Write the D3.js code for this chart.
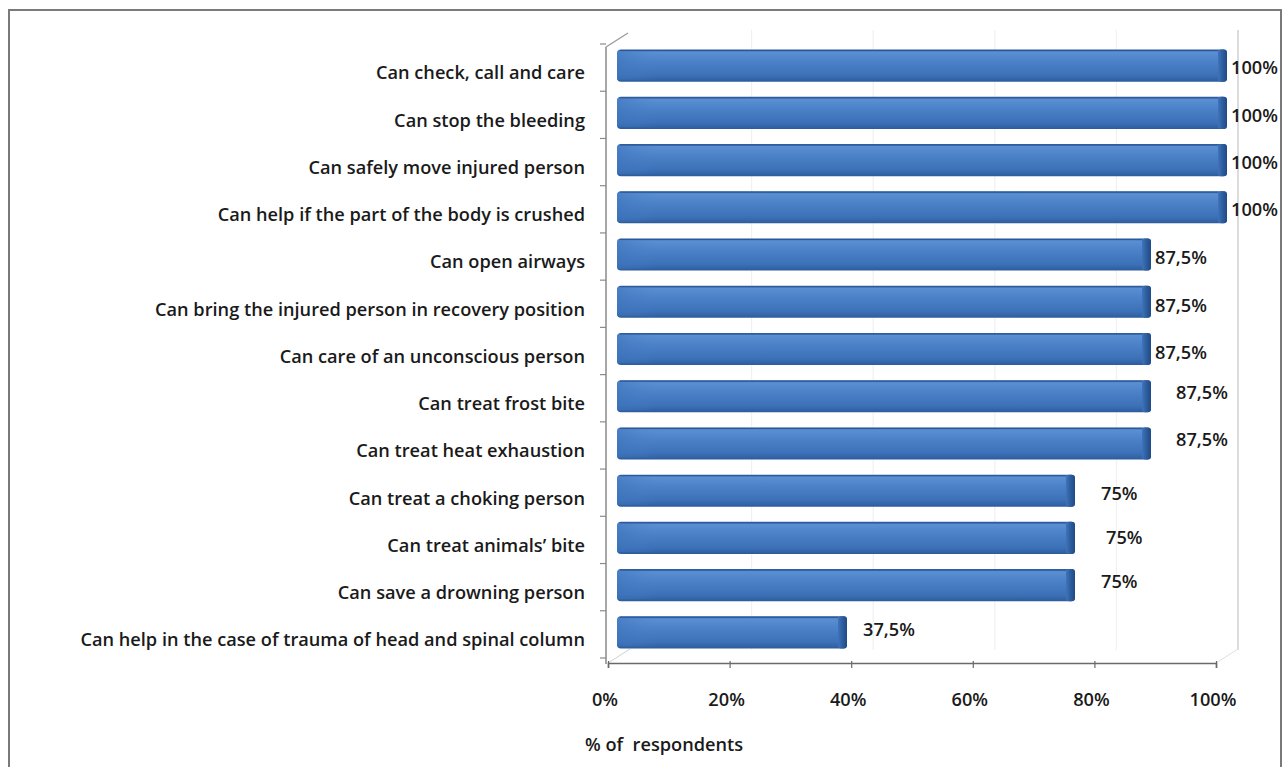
<!DOCTYPE html>
<html>
<head>
<meta charset="utf-8">
<script src="https://cdn.jsdelivr.net/npm/d3@7"></script>
<style>
  html, body { margin: 0; padding: 0; background: #fff; }
  svg { display: block; }
</style>
</head>
<body>
<svg id="chart" width="1285" height="767"></svg>
<script>
// ---- data ----
const categories = [
  "Can check, call and care",
  "Can stop the bleeding",
  "Can safely move injured person",
  "Can help if the part of the body is crushed",
  "Can open airways",
  "Can bring the injured person in recovery position",
  "Can care of an unconscious person",
  "Can treat frost bite",
  "Can treat heat exhaustion",
  "Can treat a choking person",
  "Can treat animals\u2019 bite",
  "Can save a drowning person",
  "Can help in the case of trauma of head and spinal column"
];
const values = [100, 100, 100, 100, 87.5, 87.5, 87.5, 87.5, 87.5, 75, 75, 75, 37.5];
const valueLabels = ["100%", "100%", "100%", "100%", "87,5%", "87,5%", "87,5%", "87,5%", "87,5%", "75%", "75%", "75%", "37,5%"];
const tickValues = [0, 20, 40, 60, 80, 100];
const tickLabels = ["0%", "20%", "40%", "60%", "80%", "100%"];
// small label nudges [dx, dy] as placed in the original
const labelNudge = [[0,4],[0,4],[0,4],[0,4],[0,5],[0,5],[0,5],[21,-2],[21,-2],[22,4],[27,1],[22,-2],[12,-1]];

// ---- layout ----
const svg = d3.select("#chart");
const font = "'Open Sans', 'DejaVu Sans', sans-serif";
const depthX = 22, depthY = -14;     // back wall offset
const barDX = 9, barDY = -2;          // bar mid-depth offset

const x = d3.scaleLinear().domain([0, 100]).range([608, 1216]);
const y = d3.scaleBand().domain(categories).range([44, 658]).paddingInner(0.32).paddingOuter(0.16);

// fit font size so the longest label spans like the original (~507px)
const probe = svg.append("text").attr("font-family", font).attr("font-weight", 600)
  .attr("font-size", 20).text(categories[categories.length - 1]);
const fs = Math.min(19, 20 * 505 / probe.node().getComputedTextLength());
probe.remove();

const defs = svg.append("defs");
const g1 = defs.append("linearGradient").attr("id", "barGrad").attr("x1", 0).attr("y1", 0).attr("x2", 0).attr("y2", 1);
g1.append("stop").attr("offset", "0%").attr("stop-color", "#2c5c9e");
g1.append("stop").attr("offset", "8%").attr("stop-color", "#5b8fd3");
g1.append("stop").attr("offset", "35%").attr("stop-color", "#4c82c8");
g1.append("stop").attr("offset", "80%").attr("stop-color", "#3c71b8");
g1.append("stop").attr("offset", "100%").attr("stop-color", "#2d5c9c");
const g2 = defs.append("linearGradient").attr("id", "capGrad").attr("x1", 0).attr("y1", 0).attr("x2", 1).attr("y2", 0);
g2.append("stop").attr("offset", "0%").attr("stop-color", "#3f74bb");
g2.append("stop").attr("offset", "45%").attr("stop-color", "#2f5f9f");
g2.append("stop").attr("offset", "100%").attr("stop-color", "#1f4a85");
const g3 = defs.append("linearGradient").attr("id", "leftGrad").attr("x1", 0).attr("y1", 0).attr("x2", 1).attr("y2", 0);
g3.append("stop").attr("offset", "0%").attr("stop-color", "#3d74bd");
g3.append("stop").attr("offset", "100%").attr("stop-color", "#4c82c8").attr("stop-opacity", 0);

// frame
svg.append("rect").attr("x", 9).attr("y", 10).attr("width", 1272).attr("height", 770)
  .attr("fill", "#fff").attr("stroke", "#7a7a7a").attr("stroke-width", 2);

// back-wall gridlines
svg.append("g").selectAll("line").data(tickValues.slice(1)).join("line")
  .attr("x1", d => x(d) + depthX).attr("x2", d => x(d) + depthX)
  .attr("y1", 650).attr("y2", 44 + depthY)
  .attr("stroke", d => d === 100 ? "#c9c9c9" : "#f1f1f1").attr("stroke-width", 1.3);

// floor diagonals
svg.append("line").attr("x1", x(0)).attr("y1", 663).attr("x2", x(0) + depthX).attr("y2", 663 + depthY)
  .attr("stroke", "#d0d0d0").attr("stroke-width", 1);
svg.append("line").attr("x1", x(100)).attr("y1", 663).attr("x2", x(100) + depthX).attr("y2", 663 + depthY)
  .attr("stroke", "#e0e0e0").attr("stroke-width", 1);

// bars
const bars = svg.append("g");
categories.forEach((c, i) => {
  const v = values[i];
  const x0 = x(0) + barDX, x1 = x(v) + barDX + 2;
  const yt = y(c) + barDY, h = y.bandwidth();
  bars.append("rect").attr("x", x0).attr("y", yt).attr("width", x1 - x0).attr("height", h)
    .attr("rx", 4).attr("fill", "url(#barGrad)");
  bars.append("rect").attr("x", x0).attr("y", yt + 2).attr("width", 40).attr("height", h - 4)
    .attr("fill", "url(#leftGrad)").attr("opacity", 0.6);
  bars.append("rect").attr("x", x1 - 9).attr("y", yt).attr("width", 9).attr("height", h)
    .attr("rx", 3).attr("fill", "url(#capGrad)");
  bars.append("line").attr("x1", x0 + 3).attr("x2", x1 - 9).attr("y1", yt + 1).attr("y2", yt + 1)
    .attr("stroke", "#2a5798").attr("stroke-width", 1);
});

// left (category) axis line with ticks between categories
const axL = svg.append("g");
axL.append("line").attr("x1", 606).attr("x2", 606).attr("y1", 47).attr("y2", 664)
  .attr("stroke", "#8a8a8a").attr("stroke-width", 1.5);
axL.append("line").attr("x1", 606).attr("y1", 47).attr("x2", 606 + depthX).attr("y2", 47 + depthY)
  .attr("stroke", "#9a9a9a").attr("stroke-width", 1.3);
const bounds = categories.map(c => y(c) - y.step() * y.paddingInner() / 2);
bounds.push(y(categories[categories.length - 1]) + y.bandwidth() + y.step() * y.paddingInner() / 2);
axL.selectAll("line.tk").data(bounds).join("line").attr("class", "tk")
  .attr("x1", 600).attr("x2", 606).attr("y1", d => d).attr("y2", d => d)
  .attr("stroke", "#8a8a8a").attr("stroke-width", 1.2);

// bottom value axis
const axB = svg.append("g").attr("transform", "translate(0,663)")
  .call(d3.axisBottom(x).tickValues(tickValues).tickSize(5).tickFormat(""));
axB.select(".domain").attr("stroke", "#6a6a6a").attr("stroke-width", 1.6);
axB.selectAll(".tick line").attr("stroke", "#6a6a6a").attr("stroke-width", 1.2).attr("y1", -2);

svg.append("g").selectAll("text").data(tickValues).join("text")
  .attr("x", d => x(d) - 3).attr("y", 701).attr("text-anchor", "middle").attr("dominant-baseline", "middle")
  .attr("font-family", font).attr("font-weight", 600).attr("font-size", fs).attr("fill", "#1a1a1a")
  .text((d, i) => tickLabels[i]);

svg.append("text").attr("x", 585).attr("y", 746).attr("dominant-baseline", "middle")
  .attr("font-family", font).attr("font-weight", 600).attr("font-size", fs).attr("fill", "#1a1a1a")
  .attr("xml:space", "preserve").text("% of  respondents");

// category labels
svg.append("g").selectAll("text").data(categories).join("text")
  .attr("x", 585).attr("y", d => y(d) + y.bandwidth() / 2 + 7)
  .attr("text-anchor", "end").attr("dominant-baseline", "middle")
  .attr("font-family", font).attr("font-weight", 600).attr("font-size", fs).attr("fill", "#1a1a1a")
  .text(d => d);

// value labels
svg.append("g").selectAll("text").data(categories).join("text")
  .attr("x", (d, i) => x(values[i]) + barDX + 6 + labelNudge[i][0])
  .attr("y", (d, i) => y(d) + y.bandwidth() / 2 + barDY + labelNudge[i][1])
  .attr("dominant-baseline", "middle")
  .attr("font-family", font).attr("font-weight", 600).attr("font-size", fs).attr("fill", "#1a1a1a")
  .text((d, i) => valueLabels[i]);
</script>
</body>
</html>
